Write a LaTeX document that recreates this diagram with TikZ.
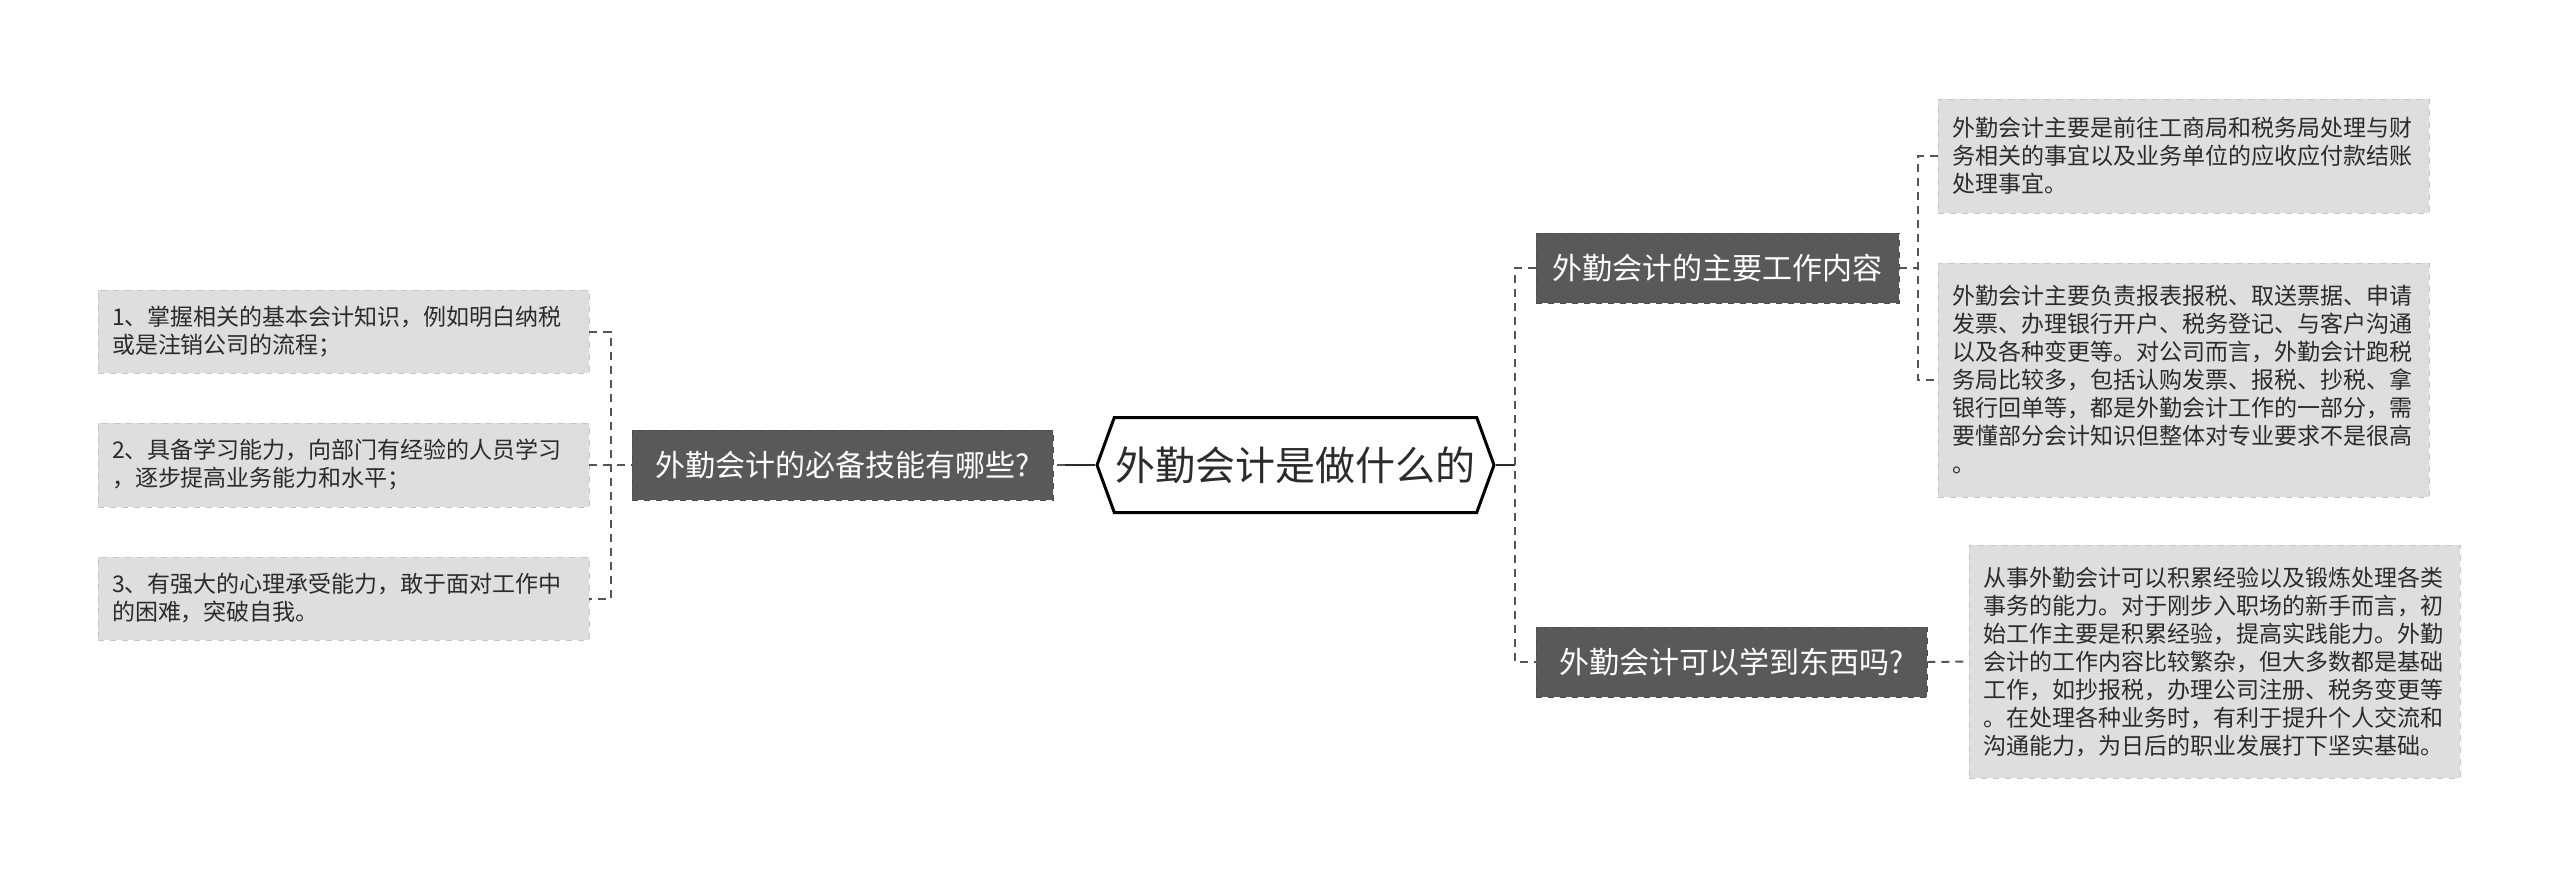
\documentclass[tikz,border=0pt]{standalone}
\usepackage{fontspec}
\setmainfont{Noto Sans CJK SC}
\usetikzlibrary{shapes.symbols, positioning}
\definecolor{topicgray}{HTML}{595959}
\definecolor{leafgray}{HTML}{DEDEDE}
\definecolor{leafedge}{HTML}{C6C6C6}
\definecolor{linegray}{HTML}{555555}
\definecolor{textdark}{HTML}{2B2B2B}

\begin{document}
\begin{tikzpicture}[
    x=0.5pt, y=-0.5pt,
    central/.style={draw=black, line width=1.5pt, fill=white, signal, signal to=west and east, signal pointer angle=140, minimum width=198.5pt, minimum height=47.5pt, inner sep=0pt, font=\fontsize{20}{24}\selectfont, text=textdark},
    topic/.style={draw=black!70, dashed, fill=topicgray, text=white, font=\fontsize{15}{18}\selectfont, minimum height=35pt, inner xsep=8pt},
    leaf/.style={draw=leafedge, dashed, fill=leafgray, text=textdark, font=\fontsize{11.5}{14}\selectfont, align=left, text width=231.5pt, inner xsep=7pt},
    link/.style={draw=linegray, line width=1pt, dash pattern=on 4pt off 3pt},
    stub/.style={draw=textdark, line width=1.2pt},
]
    \useasboundingbox (0,0) rectangle (2560,879);

    % Central topic
    \node[central] (core) at (1295.5,465) {外勤会计是做什么的};

    % Left branch
    \node[topic, minimum width=210.5pt] (skills) at (842.5,465) {外勤会计的必备技能有哪些?};
    \node[leaf, minimum height=41.5pt] (know) at (343.5,331.5) {1、掌握相关的基本会计知识，例如明白纳税\\或是注销公司的流程；};
    \node[leaf, minimum height=42pt] (study) at (343.5,465) {2、具备学习能力，向部门有经验的人员学习\\，逐步提高业务能力和水平；};
    \node[leaf, minimum height=41.5pt] (mind) at (343.5,598.5) {3、有强大的心理承受能力，敢于面对工作中\\的困难，突破自我。};

    % Right branches
    \node[topic, minimum width=181.5pt] (duty) at (1717.5,268) {外勤会计的主要工作内容};
    \node[topic, minimum width=195.5pt] (gain) at (1731.5,662) {外勤会计可以学到东西吗?};
    \node[leaf, minimum height=57pt] (dutyoffice) at (2183.5,156) {外勤会计主要是前往工商局和税务局处理与财\\务相关的事宜以及业务单位的应收应付款结账\\处理事宜。};
    \node[leaf, minimum height=117pt] (dutytax) at (2183.5,380) {外勤会计主要负责报表报税、取送票据、申请\\发票、办理银行开户、税务登记、与客户沟通\\以及各种变更等。对公司而言，外勤会计跑税\\务局比较多，包括认购发票、报税、抄税、拿\\银行回单等，都是外勤会计工作的一部分，需\\要懂部分会计知识但整体对专业要求不是很高\\。};
    \node[leaf, minimum height=116.5pt] (gaintext) at (2214.5,661.5) {从事外勤会计可以积累经验以及锻炼处理各类\\事务的能力。对于刚步入职场的新手而言，初\\始工作主要是积累经验，提高实践能力。外勤\\会计的工作内容比较繁杂，但大多数都是基础\\工作，如抄报税，办理公司注册、税务变更等\\。在处理各种业务时，有利于提升个人交流和\\沟通能力，为日后的职业发展打下坚实基础。};

    % Trunks
    \coordinate (ltrunk) at (611,465);
    \coordinate (lstub) at (1065,465);
    \coordinate (rtrunk) at (1515,465);
    \coordinate (strunk) at (1918,268);

    % Connectors, left
    \draw[stub] (core.west) -- (lstub);
    \draw[link] (lstub) -- (skills.east);
    \draw[link] (study.east) -- (skills.west);
    \draw[link] (know.east) -- (know.east -| ltrunk) -- (mind.east -| ltrunk) -- (mind.east);

    % Connectors, right
    \draw[stub] (core.east) -- (rtrunk);
    \draw[link] (duty.west) -- (duty.west -| rtrunk) -- (gain.west -| rtrunk) -- (gain.west);
    \draw[link] (duty.east) -- (strunk);
    \draw[link] (dutyoffice.west) -- (dutyoffice.west -| strunk) -- (dutytax.west -| strunk) -- (dutytax.west);
    \draw[link] (gain.east) -- (gaintext.west);
\end{tikzpicture}
\end{document}
